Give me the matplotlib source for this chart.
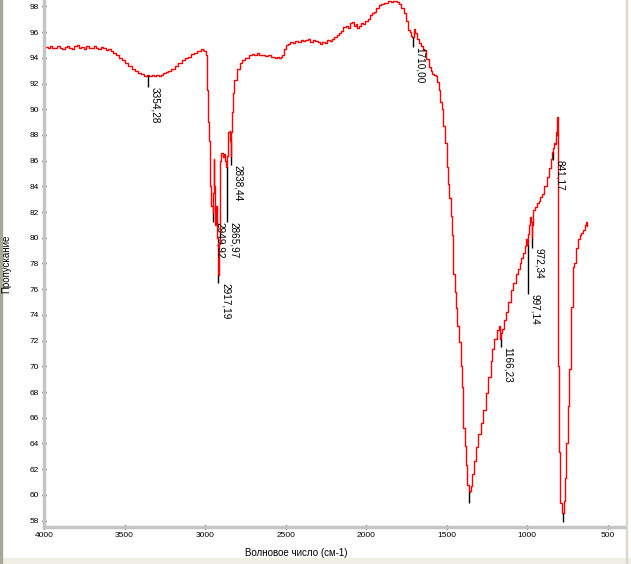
import numpy as np
import matplotlib
matplotlib.use("Agg")
import matplotlib.pyplot as plt
from matplotlib.patches import Rectangle

plt.rcParams['font.family'] = ['Liberation Sans', 'DejaVu Sans']

# spectrum (wavenumber, transmittance %)
wavenumber = [
    4000, 3985, 3970, 3955, 3940, 3925, 3910, 3895, 3880, 3865, 3850, 3835, 3820, 3805,
    3790, 3775, 3760, 3745, 3730, 3715, 3700, 3685, 3670, 3655, 3640, 3625, 3610, 3595,
    3578, 3560, 3541, 3525, 3510, 3490, 3467, 3445, 3423, 3405, 3386, 3370, 3355, 3340,
    3325, 3311, 3295, 3280, 3268, 3250, 3237, 3220, 3200, 3180, 3156, 3135, 3113, 3095,
    3076, 3060, 3045, 3030, 3020, 3008, 3000, 2992, 2985, 2980, 2975, 2970, 2964, 2958,
    2950, 2947, 2944, 2940, 2935, 2930, 2925, 2920, 2917, 2913, 2908, 2902, 2895, 2885,
    2877, 2870, 2866, 2860, 2852, 2845, 2840, 2838, 2835, 2830, 2826, 2815, 2795, 2774,
    2764, 2740, 2720, 2702, 2685, 2670, 2655, 2640, 2620, 2600, 2578, 2560, 2545, 2536,
    2525, 2516, 2505, 2495, 2480, 2465, 2450, 2432, 2415, 2400, 2385, 2370, 2355, 2340,
    2325, 2308, 2290, 2280, 2267, 2250, 2235, 2220, 2205, 2190, 2175, 2164, 2150, 2135,
    2122, 2110, 2095, 2081, 2070, 2060, 2050, 2040, 2030, 2015, 1998, 1985, 1970, 1957,
    1945, 1930, 1916, 1900, 1885, 1870, 1854, 1840, 1825, 1812, 1800, 1792, 1775, 1761,
    1748, 1734, 1722, 1716, 1710, 1703, 1699, 1690, 1680, 1668, 1655, 1637, 1620, 1606,
    1595, 1585, 1575, 1564, 1555, 1544, 1535, 1527, 1515, 1506, 1496, 1488, 1479, 1472,
    1464, 1456, 1448, 1439, 1428, 1418, 1410, 1403, 1392, 1384, 1376, 1368, 1362, 1355,
    1346, 1338, 1329, 1312, 1297, 1282, 1266, 1250, 1234, 1222, 1212, 1196, 1181, 1172,
    1166, 1160, 1149, 1138, 1128, 1112, 1096, 1080, 1064, 1053, 1043, 1032, 1022, 1010,
    1001, 997, 992, 985, 978, 975, 972, 968, 960, 946, 935, 925, 915, 904,
    890, 872, 860, 851, 845, 841, 836, 830, 825, 820, 816, 813, 811, 809,
    807, 805, 800, 790, 779, 770, 762, 753, 746, 737, 725, 712, 703, 694,
    680, 671, 660, 650, 638, 633, 629,
]
transmittance = [
    94.8, 94.85, 94.75, 94.9, 94.8, 94.75, 94.95, 94.8, 94.7, 94.85, 94.95, 94.8, 94.7, 94.9,
    95.0, 94.75, 94.85, 94.7, 94.9, 94.8, 94.75, 94.95, 94.8, 94.7, 94.85, 94.75, 94.6, 94.7,
    94.5, 94.35, 94.2, 93.95, 93.85, 93.6, 93.35, 93.15, 93.0, 92.85, 92.75, 92.6, 92.65, 92.6,
    92.7, 92.55, 92.65, 92.6, 92.7, 92.8, 92.9, 92.95, 93.15, 93.35, 93.6, 93.8, 94.0, 94.1,
    94.3, 94.4, 94.55, 94.5, 94.65, 94.6, 94.5, 94.2, 91.5, 89.0, 87.5, 86.2, 84.0, 82.5,
    81.95, 83.5, 86.1, 84.0, 81.0, 82.5, 80.0, 78.0, 77.1, 79.5, 83.0, 86.0, 86.6, 86.3,
    86.5, 86.0, 85.5, 86.4, 88.2, 88.3, 87.5, 86.3, 88.2, 89.8, 91.3, 92.3, 93.1, 93.6,
    93.85, 94.0, 94.2, 94.3, 94.25, 94.35, 94.2, 94.25, 94.15, 94.2, 94.1, 94.0, 94.1, 93.95,
    94.1, 94.25, 94.7, 95.0, 95.1, 95.2, 95.15, 95.3, 95.25, 95.4, 95.3, 95.35, 95.45, 95.2,
    95.4, 95.3, 95.25, 95.1, 95.2, 95.15, 95.35, 95.3, 95.45, 95.6, 95.8, 95.95, 96.1, 96.4,
    96.5, 96.3, 96.7, 96.8, 96.5, 96.6, 96.35, 96.5, 96.7, 96.6, 96.85, 97.0, 97.3, 97.5,
    97.6, 97.9, 98.1, 98.2, 98.3, 98.25, 98.4, 98.35, 98.45, 98.4, 98.35, 98.2, 97.9, 97.5,
    96.9, 96.2, 96.0, 95.7, 95.6, 96.1, 96.25, 95.9, 95.5, 95.15, 94.9, 94.6, 93.9, 93.3,
    93.0, 92.75, 92.65, 92.55, 92.1, 91.5, 90.6, 90.0, 88.7, 87.4, 85.5, 84.2, 83.1, 81.7,
    80.2, 77.2, 75.8, 74.55, 73.1, 71.9, 70.0, 68.4, 65.2, 63.8, 62.3, 60.8, 60.2, 60.3,
    60.7, 61.6, 62.6, 63.7, 64.7, 65.6, 66.6, 67.9, 69.2, 70.4, 71.35, 72.1, 72.8, 73.1,
    72.1, 72.6, 72.9, 73.6, 74.25, 75.0, 75.9, 76.5, 77.2, 77.6, 78.0, 78.4, 78.8, 79.4,
    79.9, 79.45, 80.3, 81.0, 81.6, 81.2, 80.0, 81.0, 82.2, 82.4, 82.7, 82.9, 83.2, 83.4,
    84.0, 84.7, 85.4, 86.1, 86.7, 86.6, 87.0, 87.4, 87.3, 88.2, 88.0, 89.4, 86.0, 80.0,
    70.0, 66.6, 63.3, 59.4, 58.6, 59.5, 61.3, 64.0, 66.9, 69.8, 74.6, 77.7, 78.0, 79.2,
    79.9, 80.2, 80.4, 80.6, 81.0, 81.2, 80.9,
]

# peak markers: position, top and bottom of the black tick, label
peak_pos = [3354.28, 2949.92, 2917.19, 2865.97, 2838.44, 1710.00, 1166.23, 997.14, 972.34, 841.17]
peak_top = [92.65, 81.95, 77.1, 85.5, 86.3, 95.6, 72.1, 79.45, 80.0, 86.6]
peak_bot = [91.75, 81.25, 76.5, 81.2, 85.7, 94.85, 71.5, 75.65, 79.2, 86.05]
peak_text = ["3354,28", "2949,92", "2917,19", "2865,97", "2838,44",
             "1710,00", "1166,23", "997,14", "972,34", "841,17"]
# minima whose labels fall outside the plot
extra_pos = [1360, 779]
extra_top = [60.2, 58.6]
extra_bot = [59.4, 57.9]

fig = plt.figure(figsize=(6.31, 5.64), dpi=100)
ax = fig.add_axes([44 / 631, 37 / 564, 580 / 631, 527 / 564])

ax.plot(wavenumber, transmittance, color='red', lw=1.0, drawstyle='steps-mid')

ax.vlines(peak_pos, peak_bot, peak_top, color='black', lw=1.0)
ax.vlines(extra_pos, extra_bot, extra_top, color='black', lw=1.0)
for p, b, t in zip(peak_pos, peak_bot, peak_text):
    ax.annotate(t, xy=(p, b), xytext=(1.5, 0), textcoords='offset points',
                rotation=270, ha='left', va='top', fontsize=7.2, color='black')

ax.set_xlim(4000, 400)
ax.set_ylim(57.5, 98.5)
ax.set_xticks(np.arange(4000, 499, -500))
ax.set_xticks(np.arange(4000, 399, -100), minor=True)
ax.set_yticks(np.arange(58, 99, 2))
ax.set_yticks(np.arange(58, 99, 1), minor=True)
ax.tick_params(which='both', direction='inout', color='black', labelsize=6, pad=2)
ax.tick_params(which='major', length=3, width=1)
ax.tick_params(which='minor', length=2, width=1)

for s in ['top', 'right']:
    ax.spines[s].set_visible(False)
for s in ['left', 'bottom']:
    ax.spines[s].set_color('#c4c4c4')
    ax.spines[s].set_linewidth(2.5)

ax.set_xlabel("Волновое число (см-1)", fontsize=7)
ax.set_ylabel("Пропускание", fontsize=7)
ax.xaxis.set_label_coords(0.435, -0.040)
ax.yaxis.set_label_coords(-0.056, 0.5)

# window frame around the chart
fig.patches.append(Rectangle((0, 0), 1, 6 / 564, transform=fig.transFigure,
                             color='#f0efe6', zorder=-1))
fig.patches.append(Rectangle((0, 0), 1.5 / 631, 1, transform=fig.transFigure,
                             color='#a8a898', zorder=-1))
fig.patches.append(Rectangle((626 / 631, 0), 1 / 631, 1, transform=fig.transFigure,
                             color='#d8d8d0', zorder=-1))

fig.savefig("out.png", dpi=100)
